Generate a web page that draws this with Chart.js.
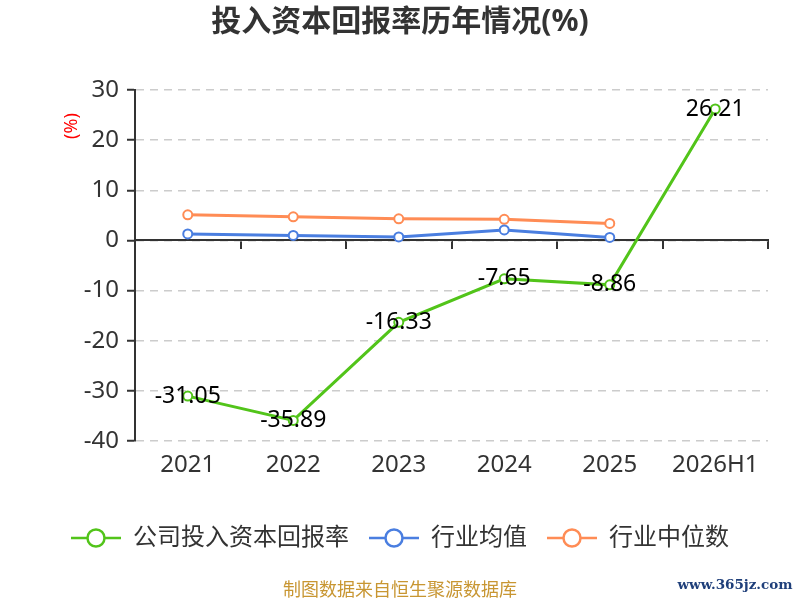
<!DOCTYPE html>
<html>
<head>
<meta charset="utf-8">
<script src="https://cdn.jsdelivr.net/npm/chart.js@4/dist/chart.umd.min.js"></script>
<style>
  html, body { margin: 0; padding: 0; background: #fff; }
  #wrap { width: 800px; height: 600px; position: relative; }
</style>
</head>
<body>
<div id="wrap"><canvas id="c" width="800" height="600"></canvas></div>
<script>
const categories = ['2021', '2022', '2023', '2024', '2025', '2026H1'];
const companyROIC = [-31.05, -35.89, -16.33, -7.65, -8.86, 26.21];
const industryMean = [1.3, 1.0, 0.7, 2.1, 0.6, null];
const industryMedian = [5.1, 4.7, 4.3, 4.2, 3.4, null];
const yTicks = [30, 20, 10, 0, -10, -20, -30, -40];
const seriesNames = ['公司投入资本回报率', '行业均值', '行业中位数'];
const seriesColors = ['#52c41a', '#4a7ee0', '#ff8c55'];

const FONT = '"Noto Sans", "Noto Sans CJK SC", sans-serif';

function legendIcon(color) {
  const cv = document.createElement('canvas');
  cv.width = 50; cv.height = 24;
  const g = cv.getContext('2d');
  g.strokeStyle = color; g.lineWidth = 2.5;
  g.beginPath(); g.moveTo(0, 12); g.lineTo(50, 12); g.stroke();
  g.fillStyle = '#fff';
  g.beginPath(); g.arc(25, 12, 8.5, 0, Math.PI * 2); g.fill(); g.stroke();
  return cv;
}
const icons = seriesColors.map(legendIcon);

const dataLabelPlugin = {
  id: 'dataLabels',
  afterDatasetsDraw(chart) {
    const ctx = chart.ctx;
    const meta = chart.getDatasetMeta(0);
    ctx.save();
    ctx.font = '23px ' + FONT;
    ctx.fillStyle = '#000';
    ctx.textAlign = 'center';
    ctx.textBaseline = 'middle';
    meta.data.forEach((pt, i) => {
      const v = companyROIC[i];
      if (v == null) return;
      ctx.fillText(v.toFixed(2), pt.x, pt.y);
    });
    ctx.restore();
  }
};

const extrasPlugin = {
  id: 'extras',
  afterDraw(chart) {
    const ctx = chart.ctx;
    ctx.save();
    ctx.translate(72, 126);
    ctx.rotate(-Math.PI / 2);
    ctx.font = '18px ' + FONT;
    ctx.fillStyle = '#ff0000';
    ctx.textAlign = 'center';
    ctx.textBaseline = 'middle';
    ctx.fillText('(%)', 0, 0);
    ctx.restore();
    ctx.save();
    ctx.font = '18px "Noto Sans CJK SC", sans-serif';
    ctx.fillStyle = '#c89632';
    ctx.textAlign = 'center';
    ctx.textBaseline = 'middle';
    ctx.fillText('制图数据来自恒生聚源数据库', 400, 589);
    ctx.font = 'bold 13.5px "DejaVu Serif", serif';
    ctx.fillStyle = '#1f3f7a';
    ctx.fillText('www.365jz.com', 735, 585);
    ctx.restore();
  }
};

function lineDs(label, data, color) {
  return {
    label: label,
    data: data,
    borderColor: color,
    backgroundColor: '#fff',
    borderWidth: 3,
    pointRadius: 4.5,
    pointHoverRadius: 4.5,
    pointBorderWidth: 2,
    pointBackgroundColor: '#fff',
    pointBorderColor: color,
    tension: 0,
    spanGaps: false
  };
}

new Chart(document.getElementById('c'), {
  type: 'line',
  data: {
    labels: categories,
    datasets: [
      lineDs(seriesNames[0], companyROIC, seriesColors[0]),
      lineDs(seriesNames[1], industryMean, seriesColors[1]),
      lineDs(seriesNames[2], industryMedian, seriesColors[2])
    ]
  },
  options: {
    responsive: false,
    animation: false,
    devicePixelRatio: 1,
    layout: { padding: { left: 0, right: 0, top: 0, bottom: 40 } },
    plugins: {
      title: {
        display: true,
        text: '投入资本回报率历年情况(%)',
        color: '#333',
        font: { family: FONT, size: 30, weight: 'bold' },
        padding: { top: 4, bottom: 50 }
      },
      legend: {
        position: 'bottom',
        labels: {
          usePointStyle: true,
          pointStyleWidth: 50,
          color: '#333',
          font: { family: FONT, size: 24 },
          padding: 20,
          generateLabels(chart) {
            const items = Chart.defaults.plugins.legend.labels.generateLabels(chart);
            items.forEach((it, i) => { it.pointStyle = icons[i]; });
            return items;
          }
        }
      },
      tooltip: { enabled: false }
    },
    scales: {
      x: {
        type: 'category',
        offset: true,
        afterFit(scale) { scale.height = 65; },
        grid: { display: false },
        border: { display: false },
        ticks: { color: '#333', font: { family: FONT, size: 24 }, padding: 2 }
      },
      x2: {
        type: 'category',
        position: { y: 0 },
        offset: true,
        grid: { display: true, offset: true, drawOnChartArea: false, drawTicks: true, tickLength: 8, color: '#333', lineWidth: 2 },
        border: { display: true, color: '#333', width: 2 },
        ticks: { display: false }
      },
      y: {
        min: -40,
        max: 30,
        afterFit(scale) { scale.width = 135; },
        afterBuildTicks(scale) { scale.ticks = yTicks.map(v => ({ value: v })); },
        ticks: { color: '#333', font: { family: FONT, size: 24 }, padding: 8, stepSize: 10 },
        grid: { color: '#cccccc', lineWidth: 1.5, drawTicks: true, tickLength: 8, tickColor: '#333', tickWidth: 2 },
        border: { display: true, color: '#333', width: 2, dash: [8, 6] }
      },
      yPad: {
        position: 'right',
        min: -40,
        max: 30,
        afterFit(scale) { scale.width = 32; },
        grid: { display: false },
        border: { display: false },
        ticks: { display: false }
      }
    }
  },
  plugins: [dataLabelPlugin, extrasPlugin]
});
</script>
</body>
</html>
